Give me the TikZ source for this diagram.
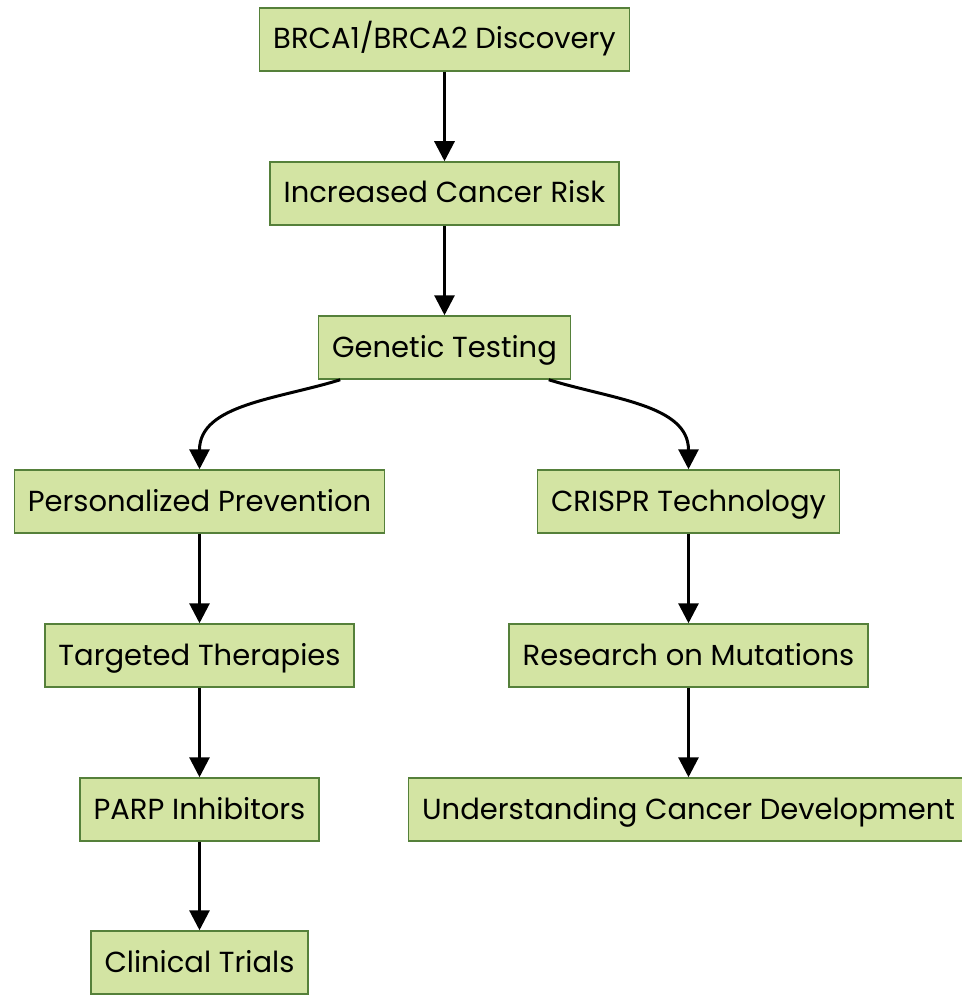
\documentclass[tikz,border=0pt]{standalone}
\usepackage{fontspec}
\setmainfont{Poppins}
\usetikzlibrary{arrows.meta}
\definecolor{boxfill}{HTML}{D3E4A3}
\definecolor{boxline}{HTML}{55803A}
\begin{document}
\begin{tikzpicture}[x=1pt,y=-1pt,
  stepbox/.style={draw=boxline,fill=boxfill,line width=1.5pt,minimum height=63pt,inner xsep=13.5pt,text height=23pt,text depth=4pt,font=\fontsize{29}{34}\selectfont},
  link/.style={-{Triangle[length=20pt,width=20pt]},line width=3pt}]
\useasboundingbox (0,0) rectangle (961,995);
\node[stepbox] (disc) at (444.5,39.5) {BRCA1/BRCA2 Discovery};
\node[stepbox] (risk) at (444.5,193.5) {Increased Cancer Risk};
\node[stepbox] (test) at (444.5,347.5) {Genetic Testing};
\node[stepbox] (prev) at (199.5,501.5) {Personalized Prevention};
\node[stepbox] (crispr) at (688.5,501.5) {CRISPR Technology};
\node[stepbox] (ther) at (199.5,655.5) {Targeted Therapies};
\node[stepbox] (mut) at (688.5,655.5) {Research on Mutations};
\node[stepbox] (parp) at (199.5,809.5) {PARP Inhibitors};
\node[stepbox] (dev) at (688.5,809.5) {Understanding Cancer Development};
\node[stepbox] (trial) at (199.5,962.5) {Clinical Trials};
\draw[link] (disc) -- (risk);
\draw[link] (risk) -- (test);
\draw[link] (test) to[out=197.5,in=90] (prev);
\draw[link] (test) to[out=-17.5,in=90] (crispr);
\draw[link] (prev) -- (ther);
\draw[link] (ther) -- (parp);
\draw[link] (parp) -- (trial);
\draw[link] (crispr) -- (mut);
\draw[link] (mut) -- (dev);
\end{tikzpicture}
\end{document}
